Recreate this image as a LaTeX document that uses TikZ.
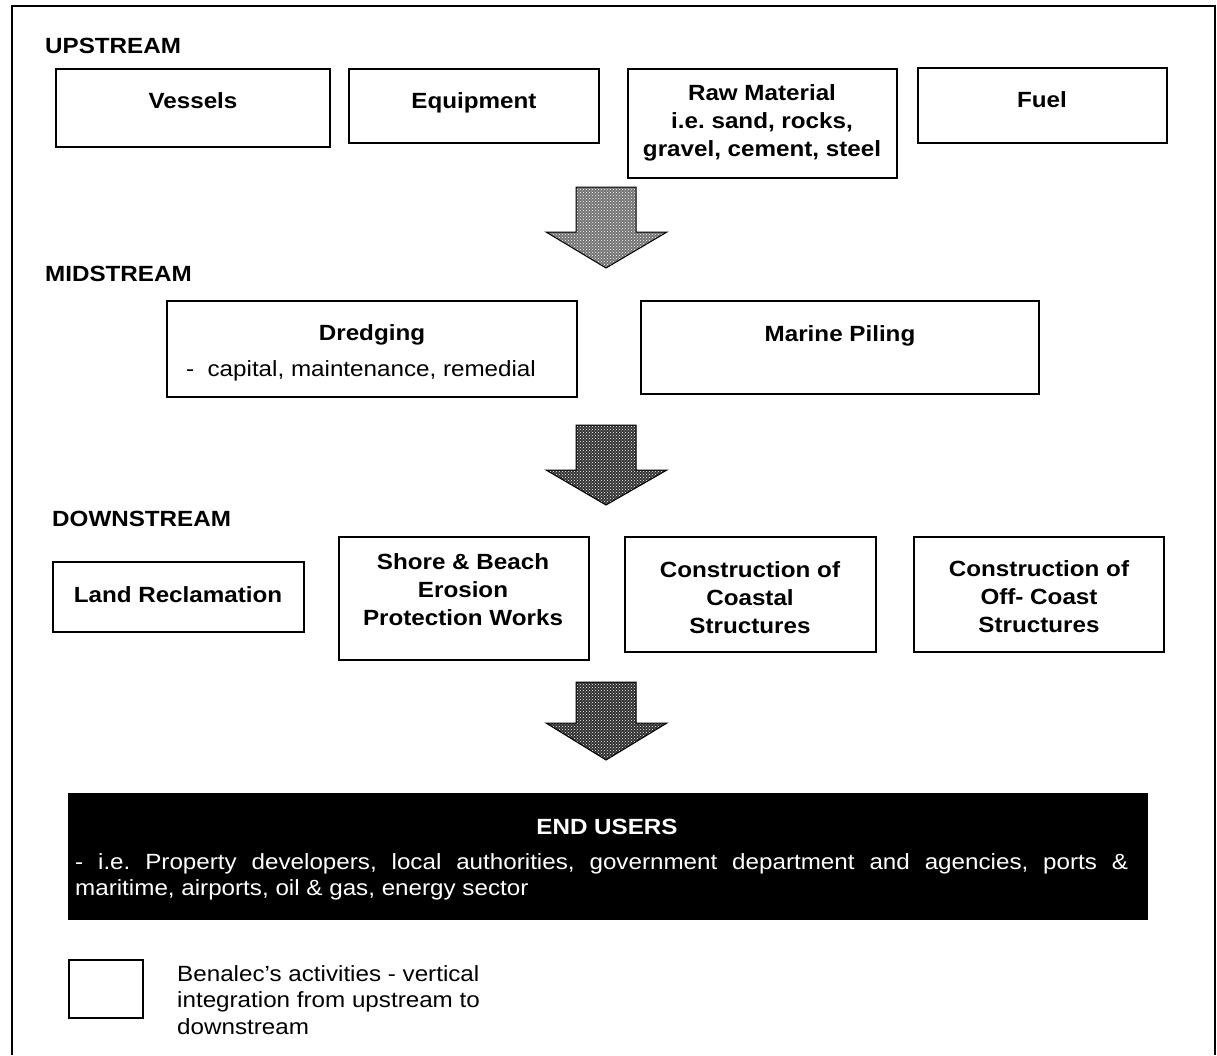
\documentclass[tikz,border=0pt]{standalone}
\usepackage{fontspec}
\setmainfont[FakeStretch=1.1]{Liberation Sans}
\usetikzlibrary{patterns,calc}
\begin{document}
\frenchspacing
\begin{tikzpicture}[x=1pt,y=-1pt,
  box/.style={draw=black,line width=1.8pt,fill=white,inner sep=0pt},
  bt/.style={font=\fontsize{22}{28}\selectfont\bfseries,align=center,inner sep=0pt},
  rt/.style={font=\fontsize{22}{26.5}\selectfont,inner sep=0pt},
  head/.style={font=\fontsize{22}{26}\selectfont\bfseries,anchor=west,inner sep=0pt},
  flowarrow/.style={fill=#1},
  speckle/.style={pattern=crosshatch dots,pattern color=white}
]
\useasboundingbox (0,0) rectangle (1217,1055);
% outer frame (open at the bottom)
\draw[line width=1.5pt] (12,1055) -- (12,6) -- (1215,6) -- (1215,1055);

% headings
\node[head] (up) at (45,46) {UPSTREAM};
\node[head] (mid) at (45,274) {MIDSTREAM};
\node[head] (down) at (52,519) {DOWNSTREAM};

% upstream
\node[box,minimum width=274pt,minimum height=78pt] (vessels) at (193,108) {};
\node[bt] (tvessels) at (193,101) {Vessels};
\node[box,minimum width=250pt,minimum height=74pt] (equip) at (474,106) {};
\node[bt] (tequip) at (474,103) {Equipment};
\node[box,minimum width=269pt,minimum height=109pt] (raw) at (762.5,123.5) {};
\node[bt] (traw) at (762,123) {Raw Material\\i.e. sand, rocks,\\gravel, cement, steel};
\node[box,minimum width=249pt,minimum height=75pt] (fuel) at (1042.5,105.5) {};
\node[bt] (tfuel) at (1042,100) {Fuel};

% midstream
\node[box,minimum width=410pt,minimum height=96pt] (dredge) at (372,349) {};
\node[bt] (tdredge) at (372,335) {Dredging};
\node[rt] (tdredge2) at (361,371) {-\ \ capital, maintenance, remedial};
\node[box,minimum width=398pt,minimum height=93pt] (piling) at (840,347.5) {};
\node[bt] (tpiling) at (840,336) {Marine Piling};

% downstream
\node[box,minimum width=251pt,minimum height=70pt] (land) at (178.5,597) {};
\node[bt] (tland) at (178,595) {Land Reclamation};
\node[box,minimum width=250pt,minimum height=123pt] (shore) at (464,598.5) {};
\node[bt] (tshore) at (463,590) {Shore \& Beach\\Erosion\\Protection Works};
\node[box,minimum width=251pt,minimum height=115pt] (coastal) at (750.5,594.5) {};
\node[bt] (tcoastal) at (750,598) {Construction of\\Coastal\\Structures};
\node[box,minimum width=250pt,minimum height=115pt] (offc) at (1039,594.5) {};
\node[bt] (toffc) at (1039,597) {Construction of\\Off- Coast\\Structures};

% end users
\node[draw=black,fill=black,line width=1pt,minimum width=1079pt,minimum height=126pt,inner sep=0pt] (endu) at (607.5,856) {};
\node[bt,text=white,font=\fontsize{22}{26}\selectfont\bfseries] (tendu) at (607,827) {END USERS};
\node[rt,text=white,text width=1053pt,align=justify,anchor=north west] (tendu2) at (75,853)
  {- i.e. Property developers, local authorities, government department and agencies, ports \&\linebreak maritime, airports, oil \& gas, energy sector};

% legend
\node[box,minimum width=74pt,minimum height=58pt] (legend) at (106,989) {};
\node[rt,anchor=north west,align=left] (tlegend) at (177,965) {Benalec's activities - vertical\\integration from upstream to\\downstream};

% block arrows
\foreach \t/\b/\p/\c in {187/232/268/black!55, 425/470/505/black!80, 682/723/760/black!82}{
  \fill[flowarrow=\c] (576,\t) -- (636,\t) -- (636,\b) -- (667,\b) -- (606,\p) -- (546,\b) -- (576,\b) -- cycle;
  \fill[speckle] (576,\t) -- (636,\t) -- (636,\b) -- (667,\b) -- (606,\p) -- (546,\b) -- (576,\b) -- cycle;
  \draw[line width=1pt] (576,\t) -- (636,\t) -- (636,\b) -- (667,\b) -- (606,\p) -- (546,\b) -- (576,\b) -- cycle;
}
\end{tikzpicture}
\end{document}
